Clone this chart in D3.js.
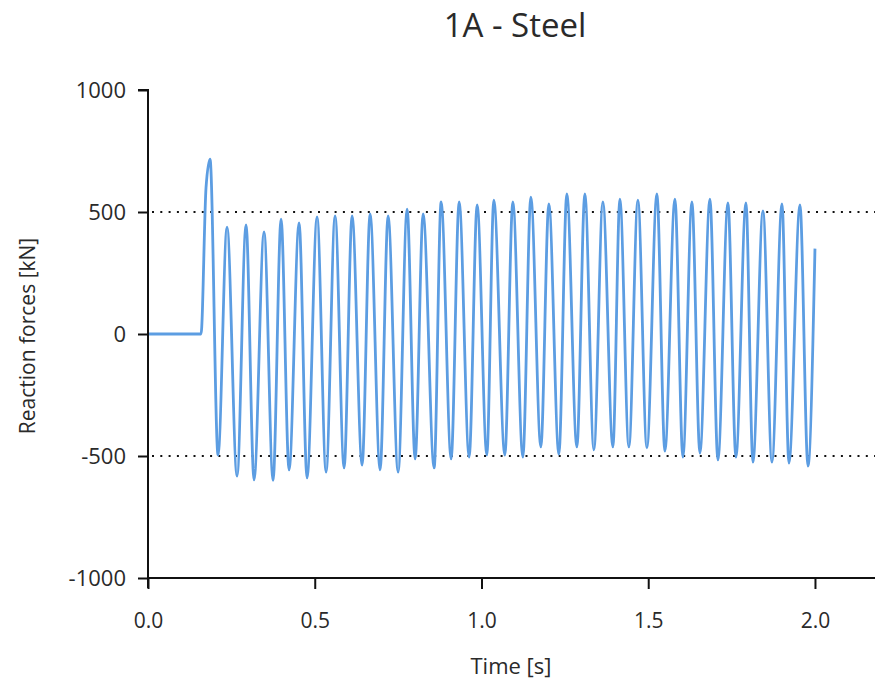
<!DOCTYPE html>
<html>
<head>
<meta charset="utf-8">
<script src="https://cdn.jsdelivr.net/npm/d3@7"></script>
<style>
  html, body { margin: 0; padding: 0; background: #fff; }
  svg { display: block; }
  text { font-family: "Open Sans", "Noto Sans", sans-serif; fill: #2a2a2a; }
</style>
</head>
<body>
<script>
// ---- data ----
const title = "1A - Steel";
const xLabel = "Time [s]";
const yLabel = "Reaction forces [kN]";
const xTicks = [0.0, 0.5, 1.0, 1.5, 2.0];
const yTicks = [-1000, -500, 0, 500, 1000];
const refLevels = [500, -500];

// time [s] of each turning point of the reaction force signal
const time = [
  0.000, 0.159, 0.174, 0.186, 0.210,
  0.237, 0.267, 0.294, 0.318, 0.348, 0.375, 0.399, 0.423, 0.453, 0.477,
  0.507, 0.534, 0.561, 0.588, 0.612, 0.642, 0.666, 0.696, 0.720, 0.750,
  0.777, 0.801, 0.825, 0.858, 0.879, 0.909, 0.933, 0.963, 0.987, 1.016,
  1.037, 1.070, 1.094, 1.124, 1.148, 1.178, 1.202, 1.232, 1.256, 1.286,
  1.310, 1.337, 1.364, 1.394, 1.415, 1.442, 1.469, 1.496, 1.526, 1.550,
  1.580, 1.604, 1.631, 1.655, 1.685, 1.709, 1.739, 1.763, 1.793, 1.814,
  1.844, 1.871, 1.901, 1.922, 1.955, 1.979, 2.000
];
// reaction force [kN] at those times
const force = [
  0, 0, 600, 717, -496,
  438, -582, 447, -598, 418, -600, 471, -557, 455, -590,
  480, -566, 484, -549, 484, -537, 492, -557, 484, -566,
  512, -512, 492, -549, 541, -512, 541, -504, 529, -496,
  549, -496, 541, -504, 561, -463, 533, -492, 574, -463,
  574, -475, 541, -463, 553, -463, 549, -467, 574, -480,
  553, -504, 541, -488, 553, -516, 537, -504, 537, -525,
  504, -525, 533, -529, 529, -541, 350
];

// ---- layout ----
const W = 875, H = 686;
const svg = d3.select("body").append("svg").attr("width", W).attr("height", H);

const x = d3.scaleLinear().domain([0, 2.18]).range([148, 875]);
const y = d3.scaleLinear().domain([-1000, 1000]).range([578, 90]);

// reference dotted lines
svg.selectAll("line.ref").data(refLevels).enter().append("line")
  .attr("class", "ref")
  .attr("x1", x(0) + 4).attr("x2", W)
  .attr("y1", d => y(d)).attr("y2", d => y(d))
  .attr("stroke", "#111").attr("stroke-width", 2)
  .attr("stroke-dasharray", "2,6.3");

// signal
const pts = time.map((t, i) => [t, force[i]]);
const line = d3.line().x(d => x(d[0])).y(d => y(d[1])).curve(d3.curveMonotoneX);
svg.append("path").datum(pts)
  .attr("d", line)
  .attr("fill", "none")
  .attr("stroke", "#5c9de2")
  .attr("stroke-width", 2.8)
  .attr("stroke-linejoin", "round");

// y axis (hyphen minus like the reference)
const yAxis = d3.axisLeft(y).tickValues(yTicks).tickSize(10).tickPadding(12)
  .tickFormat(d => String(d));
const gy = svg.append("g").attr("transform", `translate(${x(0)},0)`).call(yAxis);
gy.selectAll("path, line").attr("stroke", "#111").attr("stroke-width", 2);
gy.selectAll("text").attr("font-size", 22).attr("fill", "#2a2a2a");
gy.select(".domain").attr("d", `M-10,${y(1000)}H0V${y(-1000) + 10}`);

// x axis
const xAxis = d3.axisBottom(x).tickValues(xTicks).tickSize(11).tickPadding(24)
  .tickFormat(d3.format(".1f"));
const gx = svg.append("g").attr("transform", `translate(0,${y(-1000)})`).call(xAxis);
gx.select(".domain").attr("d", `M${x(0)},0H${W}`);
gx.selectAll("path, line").attr("stroke", "#111").attr("stroke-width", 2);
gx.selectAll("text").attr("font-size", 21).attr("fill", "#2a2a2a");

// titles
svg.append("text").attr("x", 515).attr("y", 37).attr("text-anchor", "middle")
  .attr("font-size", 33).text(title);
svg.append("text").attr("x", 511).attr("y", 674).attr("text-anchor", "middle")
  .attr("font-size", 22).text(xLabel);
svg.append("text").attr("transform", `translate(35,336) rotate(-90)`)
  .attr("text-anchor", "middle").attr("font-size", 21).text(yLabel);
</script>
</body>
</html>
